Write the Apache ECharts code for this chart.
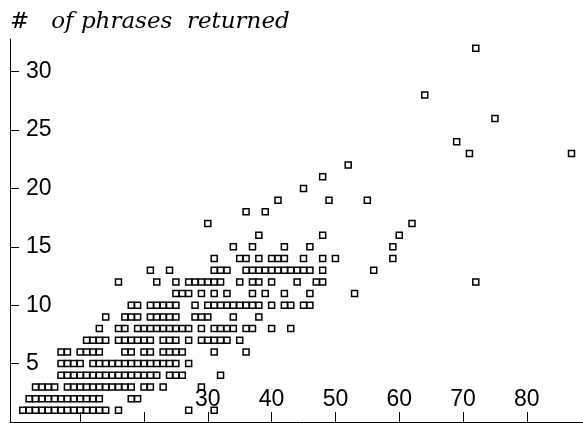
<!DOCTYPE html>
<html>
<head>
<meta charset="utf-8">
<script src="https://cdn.jsdelivr.net/npm/echarts@6/dist/echarts.min.js"></script>
<style>
html,body{margin:0;padding:0;background:#fff;}
#chart{width:583px;height:423px;}
</style>
</head>
<body>
<div id="chart"></div>
<script>
// x values of the points found at each y value (# of phrases returned)
const xsAtY1 = [1,2,3,4,5,6,7,8,9,10,11,12,13,14,16,27,31];
const xsAtY2 = [2,3,4,5,6,7,8,9,10,11,12,13,18,19];
const xsAtY3 = [3,4,5,6,8,9,10,11,12,13,14,15,16,17,18,20,21,23,29];
const xsAtY4 = [7,8,9,10,11,12,13,14,15,16,17,18,19,20,21,22,24,25,26,32];
const xsAtY5 = [7,8,9,10,12,13,14,15,16,17,18,19,20,21,22,23,24,25,27];
const xsAtY6 = [7,8,10,11,12,13,17,18,20,21,23,24,25,26,31,36];
const xsAtY7 = [11,12,13,14,16,17,18,19,20,21,23,24,25,27,29,30,31,32,33,35];
const xsAtY8 = [13,16,17,19,20,21,22,23,24,25,26,27,29,31,32,33,34,36,37,40,43];
const xsAtY9 = [14,17,18,19,21,22,23,24,25,28,29,30,34,38];
const xsAtY10 = [18,19,21,22,23,24,25,28,30,31,32,33,34,35,36,37,38,40,42,43,45,46];
const xsAtY11 = [25,26,27,29,31,33,37,39,42,46,53];
const xsAtY12 = [16,22,25,27,28,29,30,31,32,35,37,38,40,44,47,48,72];
const xsAtY13 = [21,24,31,32,33,36,37,38,39,40,41,42,43,44,45,46,48,56];
const xsAtY14 = [31,35,36,38,40,41,42,45,48,50,59];
const xsAtY15 = [34,37,42,46,59];
const xsAtY16 = [38,48,60];
const xsAtY17 = [30,62];
const xsAtY18 = [36,39];
const xsAtY19 = [41,49,55];
const xsAtY20 = [45];
const xsAtY21 = [48];
const xsAtY22 = [52];
const xsAtY23 = [71,87];
const xsAtY24 = [69];
const xsAtY26 = [75];
const xsAtY28 = [64];
const xsAtY32 = [72];

const xTickValues = [10,20,30,40,50,60,70,80];
const xLabelValues = [30,40,50,60,70,80];
const yTickValues = [5,10,15,20,25,30];
const titleText = '#   of phrases  returned';

const rows = [
  [1, xsAtY1],[2, xsAtY2],[3, xsAtY3],[4, xsAtY4],[5, xsAtY5],[6, xsAtY6],
  [7, xsAtY7],[8, xsAtY8],[9, xsAtY9],[10, xsAtY10],[11, xsAtY11],[12, xsAtY12],
  [13, xsAtY13],[14, xsAtY14],[15, xsAtY15],[16, xsAtY16],[17, xsAtY17],[18, xsAtY18],
  [19, xsAtY19],[20, xsAtY20],[21, xsAtY21],[22, xsAtY22],[23, xsAtY23],[24, xsAtY24],
  [26, xsAtY26],[28, xsAtY28],[32, xsAtY32]
];
const points = [];
rows.forEach(([y, xs]) => xs.forEach(x => points.push([x, y])));

const chart = echarts.init(document.getElementById('chart'), null, {renderer: 'canvas'});
const labelFont = {fontFamily: '"Liberation Sans", Arial, sans-serif', fontSize: 23, color: '#000'};
chart.setOption({
  animation: false,
  backgroundColor: '#fff',
  title: {
    text: titleText,
    left: 5, top: 6,
    textStyle: {fontFamily: '"DejaVu Serif", serif', fontStyle: 'italic', fontWeight: 'normal', fontSize: 23, color: '#000'}
  },
  grid: {left: 10, right: 0, top: 39, bottom: 1, containLabel: false},
  xAxis: {
    type: 'value', min: -1, max: 88.8,
    splitLine: {show: false},
    axisLine: {show: true, onZero: false, lineStyle: {color: '#000', width: 1}},
    axisTick: {show: true, inside: true, length: 10, customValues: xTickValues, lineStyle: {color: '#000', width: 1}},
    axisLabel: Object.assign({show: true, inside: true, margin: 11, customValues: xLabelValues}, labelFont)
  },
  yAxis: {
    type: 'value', min: 0, max: 32.8,
    splitLine: {show: false},
    axisLine: {show: true, onZero: false, lineStyle: {color: '#000', width: 1}},
    axisTick: {show: true, inside: true, length: 9, customValues: yTickValues, lineStyle: {color: '#000', width: 1}},
    axisLabel: Object.assign({show: true, inside: true, margin: 16, padding: [6, 0, 0, 0], customValues: yTickValues}, labelFont)
  },
  series: [{
    type: 'scatter',
    data: points,
    symbol: 'rect',
    symbolSize: 6,
    itemStyle: {color: 'rgba(255,255,255,0)', borderColor: '#000', borderWidth: 1.5, opacity: 1}
  }]
});
</script>
</body>
</html>
